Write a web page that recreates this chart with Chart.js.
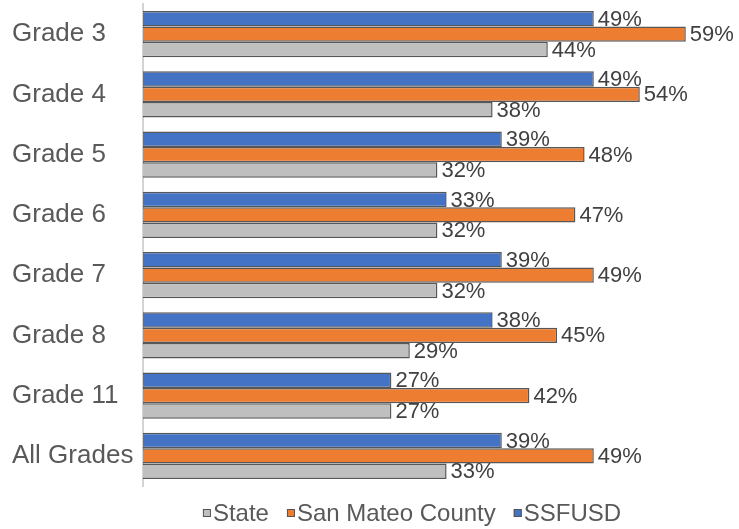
<!DOCTYPE html>
<html>
<head>
<meta charset="utf-8">
<script src="https://cdn.jsdelivr.net/npm/chart.js@4/dist/chart.umd.min.js"></script>
<style>
  html, body { margin: 0; padding: 0; background: #fff; }
  #wrap { width: 739px; height: 529px; position: relative; }
</style>
</head>
<body>
<div id="wrap"><canvas id="gradeChart"></canvas></div>
<script>
// categories and series (percent meeting standard)
const grades = ["Grade 3", "Grade 4", "Grade 5", "Grade 6", "Grade 7", "Grade 8", "Grade 11", "All Grades"];
const ssfusd = [49, 49, 39, 33, 39, 38, 27, 39];
const sanMateo = [59, 54, 48, 47, 49, 45, 42, 49];
const state = [44, 38, 32, 32, 32, 29, 27, 33];

const fontFamily = "'Liberation Sans', Arial, sans-serif";

// draw the "49%" labels at the end of each bar
const barLabels = {
  id: "barLabels",
  afterDatasetsDraw(chart) {
    const ctx = chart.ctx;
    ctx.save();
    ctx.font = "22px " + fontFamily;
    ctx.fillStyle = "#404040";
    ctx.textAlign = "left";
    ctx.textBaseline = "middle";
    chart.data.datasets.forEach((ds, i) => {
      chart.getDatasetMeta(i).data.forEach((bar, j) => {
        ctx.fillText(ds.data[j] + "%", bar.x + 4, bar.y + 1);
      });
    });
    ctx.restore();
  }
};

// legend like the office one: tiny squares, text right next to them, reversed order
const bottomLegend = {
  id: "bottomLegend",
  afterDraw(chart) {
    const ctx = chart.ctx;
    const items = chart.data.datasets.slice().reverse();
    const box = 8, gapText = 2, gapItem = 18;
    ctx.save();
    ctx.font = "24px " + fontFamily;
    let total = 0;
    items.forEach((ds, i) => {
      total += box + gapText + ctx.measureText(ds.label).width;
      if (i < items.length - 1) total += gapItem;
    });
    const centerX = 412, y = 513;
    let x = centerX - total / 2;
    items.forEach(ds => {
      ctx.fillStyle = ds.backgroundColor;
      ctx.fillRect(x, y - box / 2, box, box);
      ctx.strokeStyle = "#555";
      ctx.lineWidth = 1;
      ctx.strokeRect(x + 0.5, y - box / 2 + 0.5, box - 1, box - 1);
      x += box + gapText;
      ctx.fillStyle = "#595959";
      ctx.textAlign = "left";
      ctx.textBaseline = "middle";
      ctx.fillText(ds.label, x, y + 1);
      x += ctx.measureText(ds.label).width + gapItem;
    });
    ctx.restore();
  }
};

new Chart(document.getElementById("gradeChart"), {
  type: "bar",
  data: {
    labels: grades,
    datasets: [
      { label: "SSFUSD", data: ssfusd, backgroundColor: "#4472C4" },
      { label: "San Mateo County", data: sanMateo, backgroundColor: "#ED7D31" },
      { label: "State", data: state, backgroundColor: "#BFBFBF" }
    ]
  },
  options: {
    indexAxis: "y",
    responsive: true,
    maintainAspectRatio: false,
    animation: false,
    layout: { padding: { top: 4, left: 12, right: 44, bottom: 43 } },
    datasets: {
      bar: {
        barPercentage: 1,
        categoryPercentage: 0.765,
        borderColor: "rgba(45,45,45,0.8)",
        borderWidth: 1.5
      }
    },
    scales: {
      x: {
        display: false,
        min: 0,
        max: 60
      },
      y: {
        grid: { display: false },
        border: { display: true, color: "#d4d4d4", width: 2 },
        afterFit(scale) {
          scale.width = 131;
          scale.paddingTop = 0;
          scale.paddingBottom = 0;
        },
        ticks: {
          crossAlign: "far",
          color: "#595959",
          font: { family: fontFamily, size: 26 }
        }
      }
    },
    plugins: {
      tooltip: { enabled: false },
      legend: { display: false }
    }
  },
  plugins: [barLabels, bottomLegend]
});
</script>
</body>
</html>
